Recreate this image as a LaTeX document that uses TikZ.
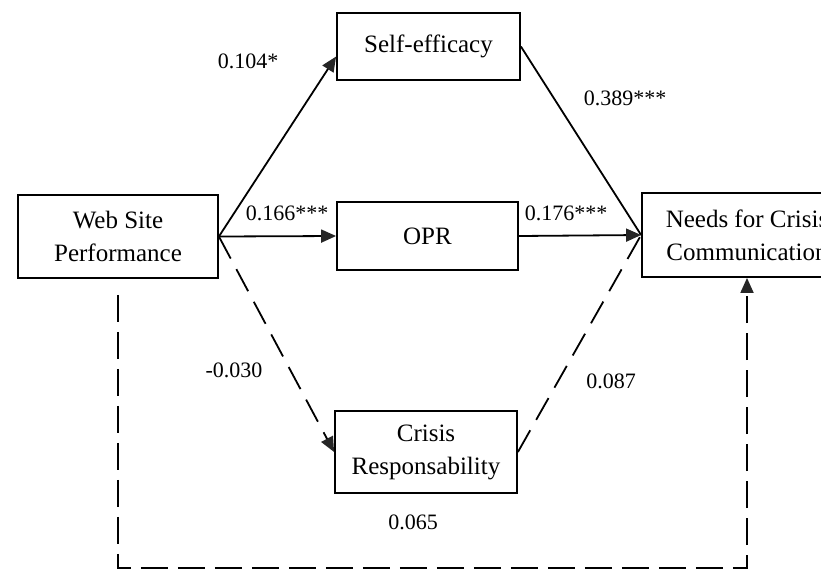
\documentclass[tikz,border=0pt]{standalone}
\usepackage{fontspec}
\setmainfont{Liberation Serif}
\usetikzlibrary{arrows.meta,calc}
\begin{document}
\begin{tikzpicture}[x=1pt,y=-1pt,
  box/.style={draw, line width=1.8pt, inner sep=0pt, align=center, font=\fontsize{25}{33}\selectfont},
  lbl/.style={font=\fontsize{22}{26}\selectfont, inner sep=0pt},
  conn/.style={line width=1.8pt},
  dsh/.style={conn, dash pattern=on 25pt off 12pt},
  tip/.style={-{Triangle[length=15pt,width=13pt,color=black!85]}}]
\useasboundingbox (0,0) rectangle (821,574);
% boxes
\node[box, minimum width=200pt, minimum height=83pt] (wsp) at (118,236.5) {Web Site\\Performance};
\node[box, minimum width=183pt, minimum height=67pt] (se) at (428.5,46.5) {Self-efficacy};
\node[box, minimum width=181pt, minimum height=68pt] (opr) at (427.5,236) {OPR};
\node[box, minimum width=182pt, minimum height=82pt] (cr) at (426,452) {Crisis\\Responsability};
\node[box, minimum width=210pt, minimum height=84pt] (ncc) at (747,235) {Needs for Crisis\\Communication};
% connectors
\draw[conn,tip] (wsp.east) -- ([yshift=-10pt]se.west);
\draw[conn,tip] (wsp.east) -- (opr.west);
\draw[dsh,tip] (wsp.east) -- (cr.west);
\draw[conn] (se.east) -- (ncc.west);
\draw[dsh] (cr.east) -- (ncc.west);
\draw[conn,tip] (opr.east) -- (ncc.west);
\coordinate (bl) at (118,568);
\draw[conn, dash pattern=on 27pt off 10pt, tip] ([yshift=-16pt]wsp.south) -- (bl) -| (ncc.south);
% labels
\node[lbl] (l1) at (248,61) {0.104*};
\node[lbl] (l2) at (625,98) {0.389***};
\node[lbl] (l3) at (287,213) {0.166***};
\node[lbl] (l4) at (566,213) {0.176***};
\node[lbl] (l5) at (234,370) {-0.030};
\node[lbl] (l6) at (611,381) {0.087};
\node[lbl] (l7) at (413,522) {0.065};
\end{tikzpicture}
\end{document}
